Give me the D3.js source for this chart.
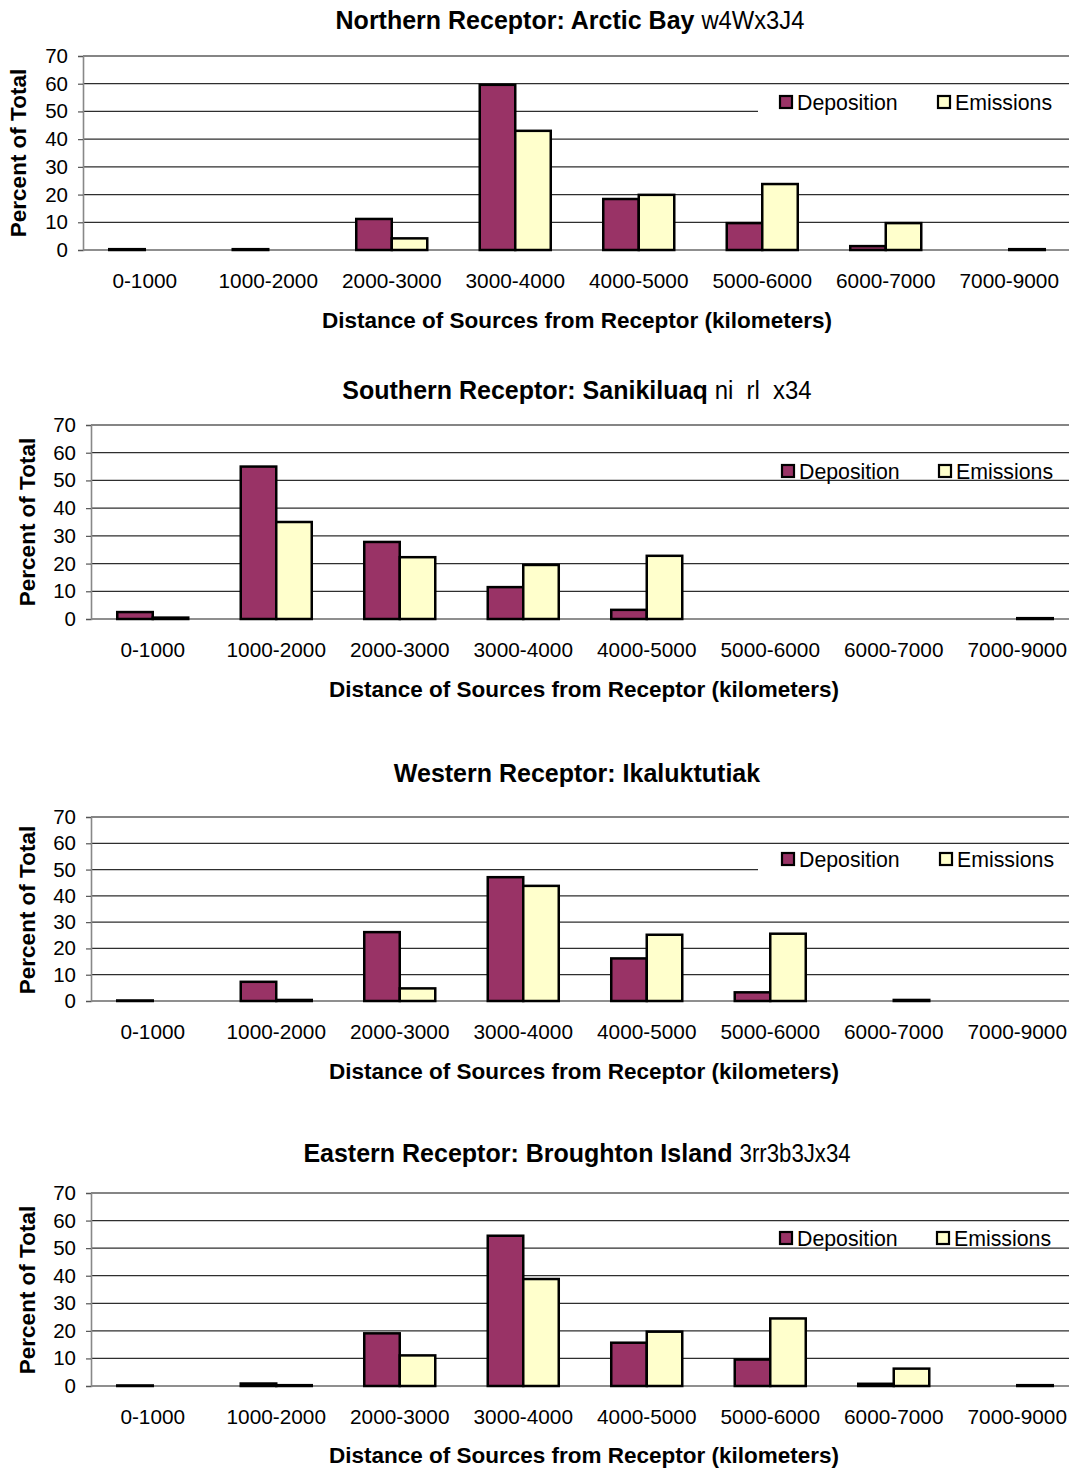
<!DOCTYPE html>
<html><head><meta charset="utf-8">
<script src="https://cdn.jsdelivr.net/npm/d3@7"></script>
<style>
body{margin:0;background:#fff}
svg{display:block}
text{font-family:"Liberation Sans",Arial,Helvetica,sans-serif}
</style>
</head><body>
<svg id="chart" width="1069" height="1469"></svg>
<script>
// ---------- DATA ----------
const categories = ["0-1000","1000-2000","2000-3000","3000-4000","4000-5000","5000-6000","6000-7000","7000-9000"];
const seriesNames = ["Deposition","Emissions"];
const yTickValues = [0,10,20,30,40,50,60,70];

const northernDeposition = [0.3, 0.3, 11.2, 59.6, 18.4, 9.7, 1.4, 0];
const northernEmissions  = [0, 0, 4.2, 43.0, 19.9, 23.8, 9.7, 0.3];
const southernDeposition = [2.5, 55.0, 27.8, 11.5, 3.3, 0, 0, 0];
const southernEmissions  = [0.5, 35.0, 22.3, 19.5, 22.8, 0, 0, 0.3];
const westernDeposition  = [0.2, 7.3, 26.2, 47.1, 16.2, 3.3, 0, 0];
const westernEmissions   = [0, 0.4, 4.8, 43.8, 25.2, 25.6, 0.4, 0];
const easternDeposition  = [0.2, 0.9, 19.1, 54.5, 15.7, 9.6, 0.8, 0];
const easternEmissions   = [0, 0.3, 11.1, 38.8, 19.7, 24.5, 6.3, 0.3];

const titleMain = ["Northern Receptor: Arctic Bay","Southern Receptor: Sanikiluaq","Western Receptor: Ikaluktutiak","Eastern Receptor: Broughton Island"];
const titleSyllabic = ["w4Wx3J4","ni  rl  x34","","3rr3b3Jx34"];
const xAxisTitle = "Distance of Sources from Receptor (kilometers)";
const yAxisTitle = "Percent of Total";

// ---------- LAYOUT ----------
const colors = {Deposition:"#993366", Emissions:"#FFFFCC"};
const W = 1069;
const panels = [
  {title:titleMain[0], syl:titleSyllabic[0], sylW:103, dep:northernDeposition, em:northernEmissions,
   left:83, top:56, bottom:250, titleCx:570, titleY:20, catY:281, xTitleY:320, xTitleCx:577, yTitleX:18, yTitleY:153,
   legendY:102, depLegX:779, emLegX:937, legendBg:true},
  {title:titleMain[1], syl:titleSyllabic[1], sylW:97, dep:southernDeposition, em:southernEmissions,
   left:91, top:425, bottom:619, titleCx:577, titleY:390, catY:650, xTitleY:689, xTitleCx:584, yTitleX:27, yTitleY:522,
   legendY:471, depLegX:781, emLegX:938, legendBg:false},
  {title:titleMain[2], syl:titleSyllabic[2], sylW:0, dep:westernDeposition, em:westernEmissions,
   left:91, top:817, bottom:1001, titleCx:577, titleY:773, catY:1032, xTitleY:1071, xTitleCx:584, yTitleX:27, yTitleY:910,
   legendY:859, depLegX:781, emLegX:939, legendBg:true},
  {title:titleMain[3], syl:titleSyllabic[3], sylW:111, dep:easternDeposition, em:easternEmissions,
   left:91, top:1193, bottom:1386, titleCx:577, titleY:1153, catY:1417, xTitleY:1455, xTitleCx:584, yTitleX:27, yTitleY:1290,
   legendY:1238, depLegX:779, emLegX:936, legendBg:false}
];

const svg = d3.select("#chart");
svg.append("rect").attr("width",W).attr("height",1469).attr("fill","#fff");

panels.forEach(p => {
  const g = svg.append("g");
  const y = d3.scaleLinear().domain([0,70]).range([p.bottom,p.top]);
  const x0 = d3.scaleBand().domain(categories).range([p.left,p.left+988]).paddingInner(0.425).paddingOuter(0.2125);
  const x1 = d3.scaleBand().domain(seriesNames).range([0,x0.bandwidth()]);

  // gridlines
  g.selectAll("line.grid").data(yTickValues.filter(v=>v>0)).join("line")
    .attr("x1",p.left).attr("x2",W)
    .attr("y1",d=>y(d)).attr("y2",d=>y(d))
    .attr("stroke",d=>d===70?"#858585":"#2e2e2e")
    .attr("stroke-width",d=>d===70?2:1.2);
  // baseline
  g.append("line").attr("x1",p.left).attr("x2",W).attr("y1",y(0)).attr("y2",y(0))
    .attr("stroke","#6a6a6a").attr("stroke-width",1.6);

  // y axis
  const ya = g.append("g").attr("transform",`translate(${p.left},0)`)
    .call(d3.axisLeft(y).tickValues(yTickValues).tickSize(5).tickPadding(10));
  ya.select(".domain").attr("stroke","#888").attr("stroke-width",1.6);
  ya.selectAll(".tick line").attr("stroke","#555").attr("stroke-width",1.2);
  ya.selectAll(".tick text").attr("font-size","20.5px").attr("fill","#000")
    .attr("font-family",'"Liberation Sans",Arial,sans-serif');

  // x axis labels
  const xa = g.append("g").attr("transform",`translate(0,${p.bottom})`)
    .call(d3.axisBottom(x0).tickSize(0).tickPadding(p.catY - p.bottom - 7.5));
  xa.select(".domain").remove();
  xa.selectAll(".tick text").attr("font-size","20.8px").attr("fill","#000")
    .attr("font-family",'"Liberation Sans",Arial,sans-serif');

  // bars
  const rows = categories.map((c,i)=>({cat:c, vals:[{s:"Deposition",v:p.dep[i]},{s:"Emissions",v:p.em[i]}]}));
  const grp = g.selectAll("g.cat").data(rows).join("g").attr("transform",d=>`translate(${x0(d.cat)},0)`);
  grp.selectAll("rect").data(d=>d.vals.filter(o=>o.v>0)).join("rect")
    .attr("x",d=>x1(d.s)).attr("width",x1.bandwidth())
    .attr("y",d=>y(d.v)).attr("height",d=>y(0)-y(d.v))
    .attr("fill",d=>colors[d.s]).attr("stroke","#000").attr("stroke-width",2.5);

  // legend
  const lg = g.append("g");
  if (p.legendBg) lg.append("rect").attr("x",758).attr("y",p.legendY-13).attr("width",W-758).attr("height",26).attr("fill","#fff");
  [["Deposition",p.depLegX],["Emissions",p.emLegX]].forEach(([s,lx])=>{
    lg.append("rect").attr("x",lx+1).attr("y",p.legendY-6).attr("width",12).attr("height",12)
      .attr("fill",colors[s]).attr("stroke","#000").attr("stroke-width",2.2);
    lg.append("text").attr("x",lx+18).attr("y",p.legendY).attr("dy","0.36em")
      .attr("font-size","21.3px").text(s);
  });

  // title
  const t = g.append("text").attr("y",p.titleY).attr("dy","0.36em").attr("font-size","25px").attr("font-weight","bold").text(p.title);
  const w1 = t.node().getComputedTextLength();
  const gap = p.syl ? 7 : 0;
  const total = w1 + gap + p.sylW;
  const sx = p.titleCx - total/2;
  t.attr("x",sx);
  if (p.syl) {
    g.append("text").attr("x",sx+w1+gap).attr("y",p.titleY).attr("dy","0.36em")
      .attr("font-size","25px").attr("font-family",'"Liberation Sans Narrow","DejaVu Sans Condensed",sans-serif')
      .style("white-space","pre")
      .attr("textLength",p.sylW).attr("lengthAdjust","spacingAndGlyphs").text(p.syl);
  }

  // axis titles
  g.append("text").attr("x",p.xTitleCx).attr("y",p.xTitleY).attr("dy","0.36em").attr("text-anchor","middle")
    .attr("font-size","22.5px").attr("font-weight","bold").text(xAxisTitle);
  g.append("text").attr("transform",`translate(${p.yTitleX},${p.yTitleY}) rotate(-90)`).attr("dy","0.36em")
    .attr("text-anchor","middle").attr("font-size","22.5px").attr("font-weight","bold").text(yAxisTitle);
});
</script>
</body></html>
